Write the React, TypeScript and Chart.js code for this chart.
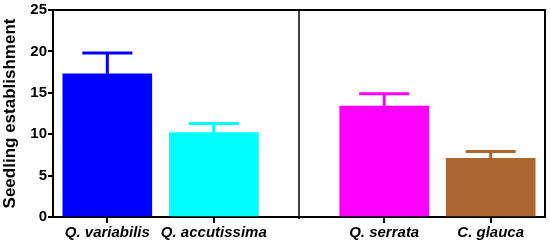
import React, { useEffect, useRef } from "react";
import { Chart, registerables } from "chart.js";

Chart.register(...registerables);

const categories = ["Q. variabilis", "Q. accutissima", "Q. serrata", "C. glauca"];
const positions = [0, 1, 2.6, 3.6];
const means = [17.3, 10.2, 13.4, 7.1];
const errors = [2.5, 1.1, 1.5, 0.8];
const colors = ["#0000FF", "#00FFFF", "#FF00FF", "#AB662F"];
const yTicks = [0, 5, 10, 15, 20, 25];
const dividerAt = 1.8;

const FONT = "'Liberation Sans', Arial, Helvetica, sans-serif";

const extras = {
  id: "extras",
  afterDatasetsDraw(chart: any) {
    const { ctx, chartArea, scales } = chart;
    const xs = scales.x;
    const ys = scales.y;
    ctx.save();
    // error bars
    ctx.lineWidth = 3;
    means.forEach((m, i) => {
      const cx = xs.getPixelForValue(positions[i]);
      const yTop = ys.getPixelForValue(m + errors[i]);
      const yBar = ys.getPixelForValue(m);
      const half = xs.getPixelForValue(positions[i] + 0.235) - cx;
      ctx.strokeStyle = colors[i];
      ctx.beginPath();
      ctx.moveTo(cx, yBar);
      ctx.lineTo(cx, yTop);
      ctx.moveTo(cx - half, yTop);
      ctx.lineTo(cx + half, yTop);
      ctx.stroke();
    });
    // frame top & right
    ctx.strokeStyle = "#000";
    ctx.lineWidth = 2;
    ctx.beginPath();
    ctx.moveTo(chartArea.left, chartArea.top);
    ctx.lineTo(chartArea.right, chartArea.top);
    ctx.lineTo(chartArea.right, chartArea.bottom);
    ctx.stroke();
    // divider
    const dx = xs.getPixelForValue(dividerAt);
    ctx.lineWidth = 1.5;
    ctx.beginPath();
    ctx.moveTo(dx, chartArea.top);
    ctx.lineTo(dx, chartArea.bottom + 2);
    ctx.stroke();
    ctx.restore();
  },
};

export default function App() {
  const ref = useRef<HTMLCanvasElement>(null);
  useEffect(() => {
    document.body.style.margin = "0";
    const chart = new Chart(ref.current!, {
      type: "bar",
      data: {
        datasets: [
          {
            data: positions.map((x, i) => ({ x, y: means[i] })) as any,
            backgroundColor: colors,
            borderWidth: 0,
            barThickness: 89,
          },
        ],
      },
      options: {
        animation: false,
        responsive: false,
        maintainAspectRatio: false,
        layout: { padding: { top: 9, right: 5, left: 0, bottom: 0 } },
        plugins: { legend: { display: false }, tooltip: { enabled: false } },
        scales: {
          x: {
            type: "linear",
            offset: false,
            min: -0.51,
            max: 4.11,
            afterBuildTicks: (s: any) => {
              s.ticks = positions.map((v) => ({ value: v }));
            },
            afterFit: (s: any) => {
              s.height = 30;
            },
            ticks: {
              autoSkip: false,
              maxRotation: 0,
              padding: 1,
              color: "#000",
              font: { family: FONT, size: 15, weight: "bold", style: "italic" },
              callback: (v: any) => categories[positions.indexOf(Number(v))] ?? "",
            },
            grid: { offset: false, drawOnChartArea: false, drawTicks: true, tickLength: 6, color: "#000", lineWidth: 2 },
            border: { display: true, color: "#000", width: 2 },
          },
          y: {
            min: 0,
            max: 25,
            afterBuildTicks: (s: any) => {
              s.ticks = yTicks.map((v) => ({ value: v }));
            },
            afterFit: (s: any) => {
              s.width = 53;
            },
            ticks: {
              padding: 1,
              color: "#000",
              font: { family: FONT, size: 15, weight: "bold" },
            },
            title: {
              display: true,
              text: "Seedling establishment",
              color: "#000",
              padding: { top: 0, bottom: 1 },
              font: { family: FONT, size: 17, weight: "bold" },
            },
            grid: { drawOnChartArea: false, drawTicks: true, tickLength: 5, color: "#000", lineWidth: 2 },
            border: { display: true, color: "#000", width: 2 },
          },
        },
      },
      plugins: [extras],
    });
    return () => chart.destroy();
  }, []);
  return (
    <div style={{ position: "fixed", left: 0, top: 0, width: 550, height: 247, background: "#fff" }}>
      <canvas ref={ref} width={550} height={247} />
    </div>
  );
}
